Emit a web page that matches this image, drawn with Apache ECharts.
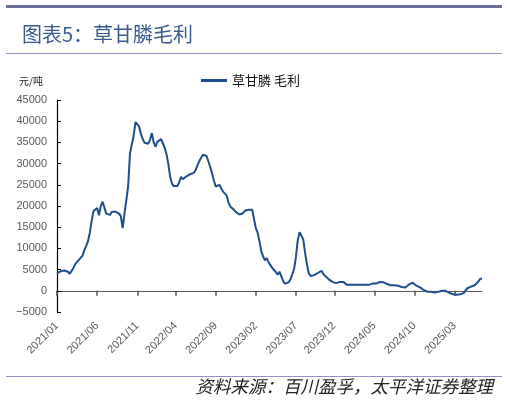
<!DOCTYPE html>
<html>
<head>
<meta charset="utf-8">
<script src="https://cdn.jsdelivr.net/npm/echarts@6/dist/echarts.min.js"></script>
<style>
  html, body { margin: 0; padding: 0; background: #fff; }
  #main { width: 507px; height: 402px; }
</style>
</head>
<body>
<div id="main"></div>
<script>
// 草甘膦毛利, 周度数据 (元/吨)
var startDate = '2021-01-01';
var margin = [
    4200, 4500, 4600, 4700, 4800, 4700, 4500, 4000, 4700, 5400,
    6300, 6800, 7300, 7700, 8300, 9600, 10600, 11700, 13700, 16500,
    18800, 18600, 19500, 17800, 20000, 21000, 21000, 18200, 17800, 17900,
    18600, 18900, 18700, 18400, 18200, 17600, 14800, 18200, 18200, 24600,
    32400, 34500, 36500, 39800, 39500, 38800, 37000, 35800, 34900, 34600,
    34700, 35600, 37200, 35000, 34000, 35100, 35400, 35800, 35500, 33800,
    32300, 30000, 27000, 25300, 24700, 24700, 24700, 25600, 26900, 26300,
    26500, 27000, 27400, 27500, 27300, 27800, 28500, 29600, 30600, 31000,
    32100, 31800, 31800, 31600, 29200, 27700, 26000, 24600, 24800, 25000,
    24200, 23400, 23100, 22500, 20800, 19900, 19600, 19100, 18600, 18400,
    18000, 17800, 18300, 18900, 19100, 19100, 19000, 19100, 18700, 14800,
    13700, 11700, 9300, 8100, 7200, 7700, 6700, 6400, 5400, 4900,
    4400, 3800, 4500, 4400, 2300, 1700, 1800, 2000, 2700, 3900,
    5200, 8000, 12000, 13800, 13000, 12100, 9000, 6300, 4200, 3500,
    3300, 3700, 4000, 4200, 4400, 4700, 4000, 3500, 3100, 2700,
    2500, 2100, 1700, 1800, 2000, 2100, 2100, 2100, 1800, 1400,
    1400, 1400, 1400, 1450, 1400, 1400, 1400, 1400, 1600, 1400,
    1500, 1400, 1600, 1700, 1700, 1700, 1900, 2100, 2000, 2000,
    1800, 1600, 1400, 1300, 1300, 1300, 1300, 1200, 1100, 900,
    700, 800, 1200, 1500, 1900, 1900, 1500, 1200, 1000, 800,
    500, 200, -100, -200, -250, -250, -300, -400, -300, -250,
    -100, 0, 150, 0, -250, -450, -650, -800, -950, -950,
    -900, -800, -650, -550, 100, 600, 900, 1000, 1100, 1300,
    1600, 2200, 2800, 2900
];

// 周度日期
var dates = [];
var d0 = new Date(startDate + 'T00:00:00Z');
for (var i = 0; i < margin.length; i++) {
    var d = new Date(d0.getTime() + i * 7 * 86400000);
    var m = d.getUTCMonth() + 1;
    dates.push(d.getUTCFullYear() + '-' + (m < 10 ? '0' + m : m) + '-' + ('0' + d.getUTCDate()).slice(-2));
}

// 每5个月标一次
function showTick(idx) {
    var cur = dates[idx].slice(0, 7);
    if (idx > 0 && dates[idx - 1].slice(0, 7) === cur) return false;
    var y = +cur.slice(0, 4), mo = +cur.slice(5, 7);
    return ((y - 2021) * 12 + mo - 1) % 5 === 0;
}

var chart = echarts.init(document.getElementById('main'));

var option = {
    backgroundColor: '#fff',
    animation: false,
    title: {
        text: '图表5：草甘膦毛利',
        left: 17,
        top: 19,
        textStyle: {
            color: '#3a5a93',
            fontSize: 20,
            fontWeight: 'normal',
            fontFamily: 'Noto Sans CJK SC'
        }
    },
    legend: {
        left: 196,
        top: 69,
        icon: 'rect',
        itemWidth: 26,
        itemHeight: 3,
        itemGap: 6,
        textStyle: {
            color: '#111',
            fontSize: 13,
            fontFamily: 'Noto Sans CJK SC'
        },
        data: ['草甘膦 毛利']
    },
    graphic: [
        { type: 'rect', shape: { x: 6, y: 5, width: 496, height: 3 }, style: { fill: '#6b6e9e' } },
        { type: 'rect', shape: { x: 6, y: 53, width: 496, height: 1 }, style: { fill: '#9295c4' } },
        { type: 'rect', shape: { x: 6, y: 376, width: 496, height: 1 }, style: { fill: '#9295c4' } },
        {
            type: 'text', left: 19, top: 76,
            style: { text: '元/吨', fill: '#222', fontSize: 10, fontFamily: 'Noto Sans CJK SC' }
        },
        {
            type: 'text', right: 14, top: 378,
            style: {
                text: '资料来源：百川盈孚，太平洋证券整理',
                fill: '#222', fontSize: 17.5, fontStyle: 'italic',
                fontFamily: 'Noto Sans CJK SC'
            }
        }
    ],
    grid: {
        left: 57,
        right: 25,
        top: 100,
        bottom: 90
    },
    xAxis: {
        type: 'category',
        data: dates,
        boundaryGap: false,
        axisLine: { onZero: true, lineStyle: { color: '#595959', width: 1.2 } },
        axisTick: {
            show: true,
            inside: false,
            length: 5,
            interval: showTick,
            lineStyle: { color: '#4d4d4d', width: 1.5 }
        },
        axisLabel: {
            interval: showTick,
            rotate: 45,
            margin: 12,
            color: '#595959',
            fontSize: 11,
            fontFamily: 'Liberation Sans',
            formatter: function (v) { return v.slice(0, 7).replace('-', '/'); }
        },
        splitLine: { show: false }
    },
    yAxis: {
        type: 'value',
        min: -5000,
        max: 45000,
        interval: 5000,
        axisLine: { show: true, onZero: false, lineStyle: { color: '#000', width: 1.2 } },
        axisTick: { show: true, inside: true, length: 4, lineStyle: { color: '#000' } },
        axisLabel: {
            margin: 10,
            color: '#595959',
            fontSize: 11,
            fontFamily: 'Liberation Sans',
            formatter: function (v) { return String(v).replace('-', '\u2212'); }
        },
        splitLine: { show: false }
    },
    series: [{
        name: '草甘膦 毛利',
        type: 'line',
        data: margin,
        symbol: 'none',
        lineStyle: { color: '#1f4e8c', width: 2 },
        itemStyle: { color: '#1f4e8c' }
    }]
};

chart.setOption(option);

window.addEventListener('resize', function () {
    chart.resize();
});
</script>
</body>
</html>
